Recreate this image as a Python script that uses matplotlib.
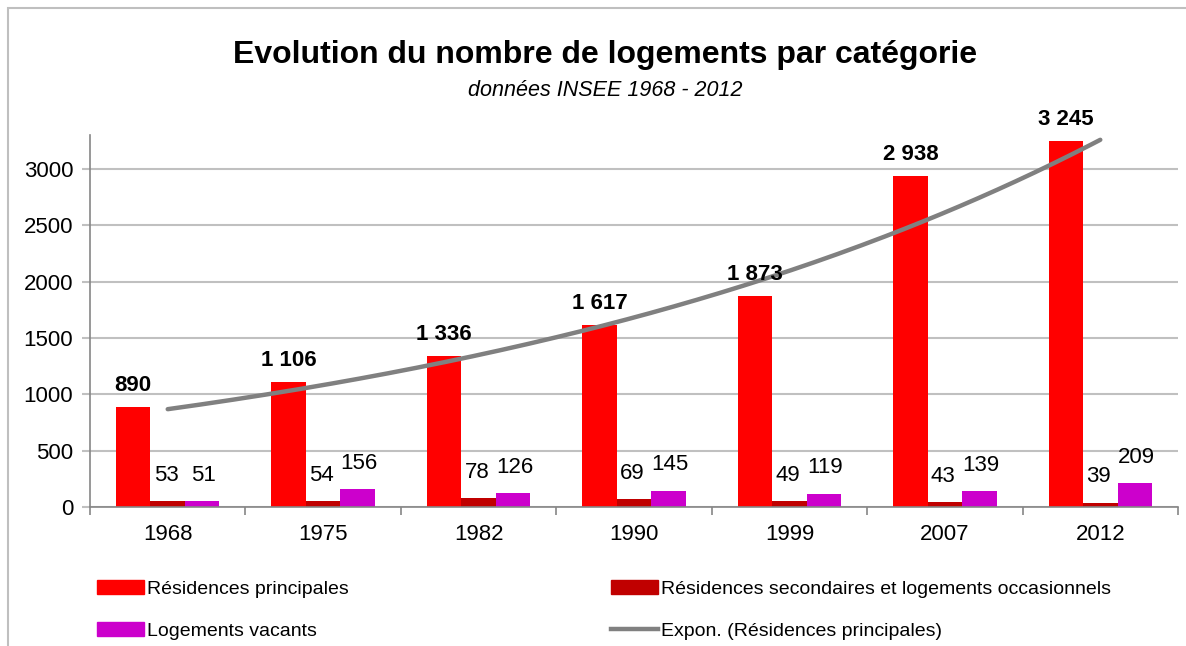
import numpy as np
import matplotlib
matplotlib.use("Agg")
import matplotlib.pyplot as plt
from matplotlib.patches import Rectangle, Patch
from matplotlib.lines import Line2D

plt.rcParams['font.family'] = ['Liberation Sans Narrow', 'Liberation Sans', 'DejaVu Sans']

years = ['1968', '1975', '1982', '1990', '1999', '2007', '2012']
principales = [890, 1106, 1336, 1617, 1873, 2938, 3245]
secondaires = [53, 54, 78, 69, 49, 43, 39]
vacants = [51, 156, 126, 145, 119, 139, 209]

RED = '#FF0000'
DARK_RED = '#C00000'
MAGENTA = '#CC00CC'
TREND = '#808080'
GRID = '#C0C0C0'
AXIS = '#868686'


def fmt(v):
    return f"{v:,}".replace(",", " ")


fig = plt.figure(figsize=(11.86, 6.46), dpi=100)
fig.patches.append(Rectangle((8 / 1186, -0.1), 1.2, 1 - 8 / 646 + 0.1,
                             transform=fig.transFigure, fill=False,
                             edgecolor='#BFBFBF', linewidth=1.5))

ax = fig.add_axes([90 / 1186, 1 - 507 / 646, 1088 / 1186, (507 - 135) / 646])

x = np.arange(len(years))
w = 0.222
ax.bar(x - w, principales, w, color=RED, zorder=2)
ax.bar(x, secondaires, w, color=DARK_RED, zorder=2)
ax.bar(x + w, vacants, w, color=MAGENTA, zorder=2)

for xi, v in zip(x, principales):
    ax.annotate(fmt(v), (xi - w, v), xytext=(0, 8), textcoords='offset points',
                ha='center', va='bottom', fontsize=16, fontweight='bold', zorder=5)
for xi, v in zip(x, secondaires):
    ax.annotate(fmt(v), (xi - 0.01, v), xytext=(0, 11), textcoords='offset points',
                ha='center', va='bottom', fontsize=16, zorder=5)
for xi, v in zip(x, vacants):
    ax.annotate(fmt(v), (xi + w + 0.01, v), xytext=(0, 11), textcoords='offset points',
                ha='center', va='bottom', fontsize=16, zorder=5)

# exponential trendline on the main residences (Excel style, x = 1..n)
k = x + 1
b, a = np.polyfit(k, np.log(principales), 1)
xs = np.linspace(1, len(years), 200)
ax.plot(xs - 1, np.exp(a + b * xs), color=TREND, linewidth=3.2,
        solid_capstyle='round', zorder=3)

ax.set_xlim(-0.5, len(years) - 0.5)
ax.set_ylim(0, 3300)
ax.set_yticks(np.arange(0, 3001, 500))
ax.yaxis.grid(True, color=GRID, linewidth=1.5, zorder=0)
ax.set_axisbelow(True)
ax.tick_params(axis='y', length=6, color=GRID, width=1.5, pad=6, labelsize=16)

ax.set_xticks(x)
ax.set_xticklabels(years)
ax.set_xticks(np.arange(-0.5, len(years)), minor=True)
ax.tick_params(axis='x', which='major', length=0, pad=12, labelsize=16)
ax.tick_params(axis='x', which='minor', length=6, color=AXIS, width=1.2)

for side in ('top', 'right'):
    ax.spines[side].set_visible(False)
for side in ('left', 'bottom'):
    ax.spines[side].set_color(AXIS)
    ax.spines[side].set_linewidth(1.2)

fig.text(0.51, 1 - 55 / 646, 'Evolution du nombre de logements par catégorie',
         ha='center', va='center', fontsize=23, fontweight='bold')
fig.text(0.51, 1 - 90 / 646, 'données INSEE 1968 - 2012',
         ha='center', va='center', fontsize=15.5, style='italic')

leg_kw = dict(frameon=False, fontsize=14, handlelength=2.4, handleheight=0.75,
              handletextpad=0.15, labelspacing=1.25, borderaxespad=0, borderpad=0)
fig.legend([Patch(color=RED), Patch(color=MAGENTA)],
           ['Résidences principales', 'Logements vacants'],
           loc='upper left', bbox_to_anchor=(97 / 1186, 1 - 580 / 646), **leg_kw)
fig.legend([Patch(color=DARK_RED), Line2D([], [], color=TREND, linewidth=3.2)],
           ['Résidences secondaires et logements occasionnels',
            'Expon. (Résidences principales)'],
           loc='upper left', bbox_to_anchor=(611 / 1186, 1 - 580 / 646), **leg_kw)

fig.savefig('out.png', dpi=100)
